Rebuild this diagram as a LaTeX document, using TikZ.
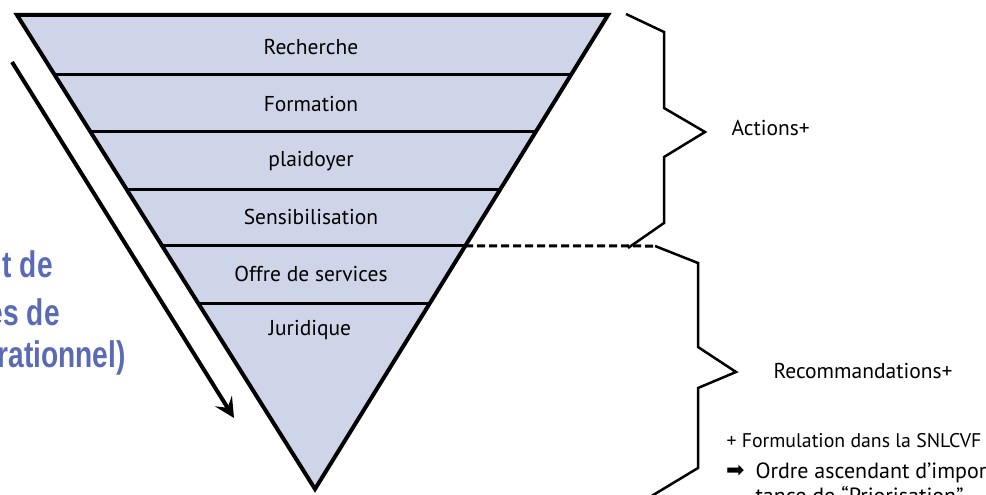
\documentclass[tikz,border=0pt]{standalone}
\usepackage{fontspec}
\setmainfont{PT Sans}
\newfontfamily\condbold{Liberation Sans}[FakeStretch=0.76]
\newfontfamily\symfont{DejaVu Sans}
\usetikzlibrary{arrows.meta,calc}
\definecolor{bandfill}{HTML}{CFD5E8}
\definecolor{bluetxt}{HTML}{5A6AB4}
\tikzset{
  band/.style={font=\fontsize{21.5}{25}\selectfont, anchor=center},
  side/.style={font=\fontsize{21.5}{25}\selectfont, anchor=west},
  bluelbl/.style={font=\condbold\bfseries\fontsize{37}{40}\selectfont, text=bluetxt, anchor=base east, inner sep=0pt},
  sep/.style={line width=3pt},
  brace/.style={line width=2.5pt, line join=miter, miter limit=10},
}
\begin{document}
\begin{tikzpicture}[x=1pt,y=-1pt]
\useasboundingbox (0,0) rectangle (986,495);
\coordinate (tl) at (17,15);
\coordinate (tr) at (608,15);
\coordinate (ap) at (315,489);
% triangle
\filldraw[fill=bandfill, line width=4pt, line join=miter, miter limit=10] (tl) -- (tr) -- (ap) -- cycle;
% band separators
\foreach \t in {0.1245,0.2468,0.3671,0.4873,0.6076}
  \draw[sep] ($(tl)!\t!(ap)$) -- ($(tr)!\t!(ap)$);
% band labels
\node[band] (rech) at (311,47) {Recherche};
\node[band] (form) at (311,104) {Formation};
\node[band] (plai) at (311,161) {plaidoyer};
\node[band] (sens) at (311,217) {Sensibilisation};
\node[band] (offr) at (311,274) {Offre de services};
\node[band] (juri) at (310,330) {Juridique};
% dashed divider
\coordinate (dsA) at ($(tr)!0.4873!(ap)$);
\coordinate (dsB) at (655,246);
\draw[line width=3pt, dash pattern=on 8pt off 4pt] (dsA) -- (dsB);
% braces
\draw[brace] (626,14) -- (664,32) -- (664,108) -- (705,132) -- (664,157) -- (664,223) -- (628,248);
\draw[brace] (655,246) -- (698,263) -- (698,347) -- (736,372) -- (698,388) -- (698,468) -- (640,503);
% side labels
\node[side] (act) at (728,128) {Actions+};
\node[side] (rec) at (770,371) {Recommandations+};
\node[side, font=\fontsize{19.8}{23}\selectfont] (fml) at (723,441) {+ Formulation dans la SNLCVF};
\node[anchor=west, font=\symfont\fontsize{22}{24}\selectfont, inner sep=0pt] (arr) at (726,471) {➡};
\node[side, font=\fontsize{22}{26}\selectfont] (ord) at (752,473) {Ordre ascendant d’impor};
\node[side, font=\fontsize{22}{26}\selectfont, anchor=base west] (ord2) at (752,503) {tance de “Priorisation”};
% blue left text
\node[bluelbl] (b1) at (53,277) {t de};
\node[bluelbl] (b2) at (60,325) {es de};
\node[bluelbl] (b3) at (126,367) {rationnel)};
% big arrow
\coordinate (as) at (12,62);
\coordinate (ae) at (234,418);
\draw[line width=4pt, -{Stealth[length=20pt,width=20pt,inset=8pt]}] (as) -- (ae);
\end{tikzpicture}
\end{document}
